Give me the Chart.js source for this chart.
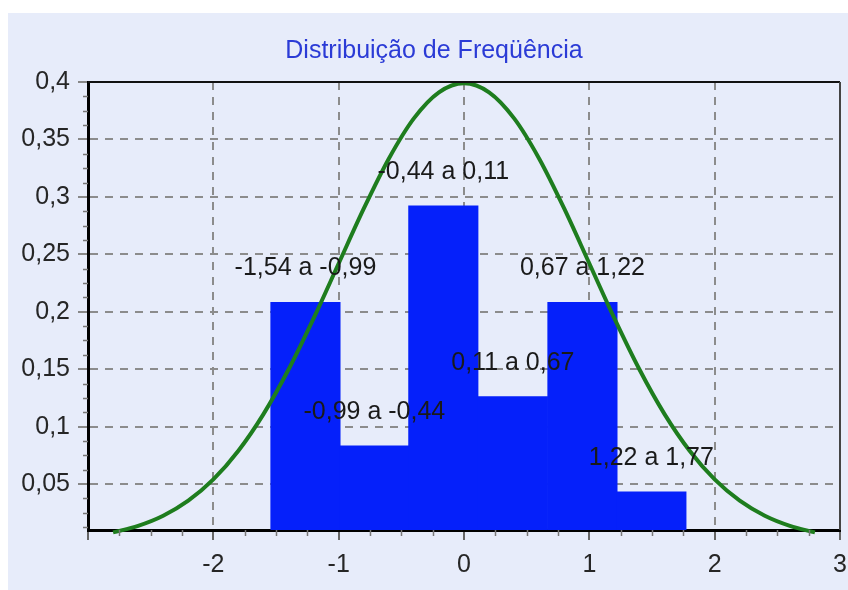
<!DOCTYPE html>
<html>
<head>
<meta charset="utf-8">
<script src="https://cdn.jsdelivr.net/npm/chart.js@4"></script>
<style>
  html, body { margin: 0; padding: 0; background: #ffffff; }
  #wrap { position: absolute; left: 8px; top: 13px; width: 840px; height: 577px; background: #e7ecfa; }
</style>
</head>
<body>
<div id="wrap"><canvas id="chart" width="840" height="577"></canvas></div>
<script>
// Classes do histograma (limites) e frequências relativas
const binStart = [-1.54, -0.99, -0.44, 0.11, 0.67, 1.22];
const binEnd = [-0.99, -0.44, 0.11, 0.67, 1.22, 1.77];
const freqs = [0.208, 0.083, 0.292, 0.126, 0.208, 0.043];

// Curva normal
const curveX = [-2.8, -2.6, -2.4, -2.2, -2, -1.8, -1.6, -1.4, -1.2, -1, -0.8, -0.6, -0.4, -0.2, 0,
  0.2, 0.4, 0.6, 0.8, 1, 1.2, 1.4, 1.6, 1.8, 2, 2.2, 2.4, 2.6, 2.8];
const curveY = [0.0079, 0.0136, 0.0224, 0.0355, 0.054, 0.079, 0.1109, 0.1497, 0.1942, 0.242, 0.2897, 0.3332, 0.3683, 0.391, 0.3989,
  0.391, 0.3683, 0.3332, 0.2897, 0.242, 0.1942, 0.1497, 0.1109, 0.079, 0.054, 0.0355, 0.0224, 0.0136, 0.0079];

const xTicks = { min: -3, max: 3, step: 1 };
const yTicks = { min: 0.01, max: 0.4, step: 0.05 };

const fmt = (v) => String(Math.round(v * 100) / 100).replace(".", ",");
const binLabels = binStart.map((s, i) => fmt(s) + " a " + fmt(binEnd[i]));
const binCenters = binStart.map((s, i) => (s + binEnd[i]) / 2);

Chart.defaults.font.family = '"Liberation Sans", Arial, sans-serif';
Chart.defaults.font.size = 25;
Chart.defaults.color = "#262626";

// rótulos das classes acima das barras
const binLabelPlugin = {
  id: "binLabels",
  afterLayout(chart) {
    // evita que os rótulos do eixo y sejam cortados à esquerda
    chart.scales.y.left = 0;
  },
  afterDatasetsDraw(chart) {
    const { ctx, scales } = chart;
    ctx.save();
    ctx.font = '25px "Liberation Sans", Arial, sans-serif';
    ctx.fillStyle = "#1a1a1a";
    ctx.textAlign = "center";
    ctx.textBaseline = "middle";
    binLabels.forEach((lab, i) => {
      const x = scales.x.getPixelForValue(binCenters[i]);
      const y = scales.y.getPixelForValue(freqs[i]) - 34;
      ctx.fillText(lab, x, y);
    });
    ctx.restore();
  },
};

// moldura superior/direita e marcas secundárias
const framePlugin = {
  id: "frame",
  afterDraw(chart) {
    const { ctx, chartArea: a, scales } = chart;
    ctx.save();
    ctx.strokeStyle = "#111";
    ctx.lineWidth = 2;
    ctx.beginPath();
    ctx.moveTo(a.left, a.top);
    ctx.lineTo(a.right, a.top);
    ctx.stroke();
    ctx.strokeStyle = "#444";
    ctx.beginPath();
    ctx.moveTo(a.right, a.top);
    ctx.lineTo(a.right, a.bottom);
    ctx.stroke();

    ctx.strokeStyle = "#777";
    ctx.lineWidth = 1.5;
    for (let v = xTicks.min; v < xTicks.max; v += 0.25) {
      if (Math.abs(v - Math.round(v)) < 1e-6) continue;
      const px = Math.round(scales.x.getPixelForValue(v)) + 0.5;
      ctx.beginPath();
      ctx.moveTo(px, a.bottom);
      ctx.lineTo(px, a.bottom + 6);
      ctx.stroke();
    }
    for (let v = 0.0125; v < yTicks.max; v += 0.0125) {
      const r = v / 0.05;
      if (Math.abs(r - Math.round(r)) < 1e-6) continue;
      const py = Math.round(scales.y.getPixelForValue(v)) + 0.5;
      ctx.beginPath();
      ctx.moveTo(a.left - 5, py);
      ctx.lineTo(a.left, py);
      ctx.stroke();
    }
    ctx.restore();
  },
};

new Chart(document.getElementById("chart").getContext("2d"), {
  type: "bar",
  data: {
    datasets: [
      {
        type: "line",
        data: curveX.map((x, i) => ({ x: x, y: curveY[i] })),
        borderColor: "#1e7d1e",
        borderWidth: 4,
        pointRadius: 0,
        tension: 0.4,
        cubicInterpolationMode: "monotone",
        clip: false,
        order: 0,
      },
      {
        type: "bar",
        data: binCenters.map((x, i) => ({ x: x, y: freqs[i] })),
        backgroundColor: "#0520fa",
        borderWidth: 0,
        barPercentage: 1,
        categoryPercentage: 1,
        inflateAmount: 0.6,
        order: 1,
      },
    ],
  },
  options: {
    responsive: false,
    animation: false,
    layout: { padding: { left: 20, right: 8, top: 0, bottom: 0 } },
    plugins: {
      legend: { display: false },
      tooltip: { enabled: false },
      title: {
        display: true,
        text: "Distribuição de Freqüência",
        color: "#2b3bd6",
        font: { size: 25, weight: "normal" },
        padding: { top: 23, bottom: 16 },
      },
    },
    scales: {
      x: {
        type: "linear",
        offset: false,
        min: xTicks.min,
        max: xTicks.max,
        afterFit: (scale) => {
          scale.paddingLeft = 0;
          scale.paddingRight = 0;
        },
        ticks: {
          stepSize: xTicks.step,
          padding: 10,
          callback: (v) => (v === xTicks.min ? "" : String(v)),
        },
        grid: {
          offset: false,
          color: "#8c8c8c",
          lineWidth: 2,
          tickLength: 10,
          tickColor: "#666",
          tickWidth: 2,
        },
        border: { display: true, color: "#000", width: 3, dash: [8, 7] },
      },
      y: {
        min: yTicks.min,
        max: yTicks.max,
        beginAtZero: false,
        afterFit: (scale) => {
          scale.width = 60;
        },
        ticks: {
          stepSize: yTicks.step,
          includeBounds: false,
          padding: 8,
          callback: (v) => fmt(v),
        },
        grid: {
          color: "#8c8c8c",
          lineWidth: 2,
          tickLength: 10,
          tickColor: "#888",
          tickWidth: 2,
        },
        border: { display: true, color: "#000", width: 3, dash: [8, 7] },
      },
    },
  },
  plugins: [binLabelPlugin, framePlugin],
});
</script>
</body>
</html>
